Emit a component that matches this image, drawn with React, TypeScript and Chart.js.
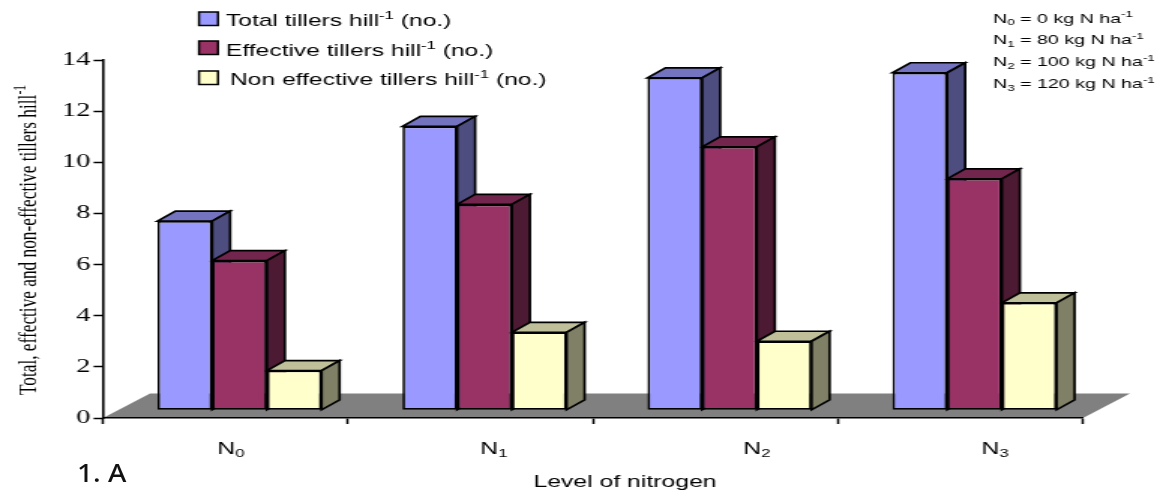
import React, { useEffect, useRef } from "react";
import { Chart, registerables } from "chart.js";

Chart.register(...registerables);

const categories = ["N₀", "N₁", "N₂", "N₃"];
const totalTillers = [7.4, 11.1, 13.0, 13.2];
const effectiveTillers = [5.85, 8.05, 10.3, 9.05];
const nonEffectiveTillers = [1.55, 3.05, 2.7, 4.2];
const seriesLabels = [
  "Total tillers hill⁻¹ (no.)",
  "Effective tillers hill⁻¹ (no.)",
  "Non effective tillers hill⁻¹ (no.)",
];
const notes = [
  "N₀ = 0 kg N ha⁻¹",
  "N₁ = 80 kg N ha⁻¹",
  "N₂ = 100 kg N ha⁻¹",
  "N₃ = 120 kg N ha⁻¹",
];
const yTitle = "Total, effective and non-effective tillers hill⁻¹";
const xTitle = "Level of nitrogen";
const panelLabel = "1. A";

// The reference is a horizontally stretched picture: draw narrow, stretch with CSS.
const PAGE_W = 1163;
const PAGE_H = 497;
const CANVAS_W = 775;
const S = PAGE_W / CANVAS_W;
const px = (x: number) => x / S;

const SANS = '"Liberation Sans", Arial, sans-serif';
const SERIF = '"Liberation Serif", "Times New Roman", serif';

const fills = ["#9999FF", "#993366", "#FFFFCC"];
const tops = ["#7373BF", "#73264D", "#BFBF99"];
const sides = ["#4D4D80", "#4D1A33", "#808066"];

const BAR_SHIFT_X = px(14);
const BAR_SHIFT_Y = 7.7;
const DEPTH_X = px(18);
const DEPTH_Y = 10;
const FLOOR_X = px(47);
const FLOOR_Y = 24.5;
const XLABEL_X = [231, 494, 757, 995];
const XLABEL_Y = 454;
const LINE = 1.7;

const SMALL: Record<string, [string, number]> = {
  "₀": ["0", 1], "₁": ["1", 1], "₂": ["2", 1], "₃": ["3", 1],
  "⁻": ["-", -1], "¹": ["1", -1],
};

// Draws text with real sub- and superscripts, left aligned at x.
function rich(
  ctx: CanvasRenderingContext2D,
  text: string,
  x: number,
  y: number,
  size: number,
  family: string,
) {
  let cur = x;
  let run = "";
  const flush = () => {
    if (!run) return;
    ctx.font = `${size}px ${family}`;
    ctx.fillText(run, cur, y);
    cur += ctx.measureText(run).width;
    run = "";
  };
  for (const ch of text) {
    const small = SMALL[ch];
    if (small) {
      flush();
      ctx.font = `${size * 0.68}px ${family}`;
      ctx.fillText(small[0], cur, y + (small[1] > 0 ? size * 0.2 : -size * 0.42));
      cur += ctx.measureText(small[0]).width;
    } else run += ch;
  }
  flush();
}

function richWidth(ctx: CanvasRenderingContext2D, text: string, size: number, family: string) {
  let w = 0;
  for (const ch of text) {
    const small = SMALL[ch];
    ctx.font = `${small ? size * 0.68 : size}px ${family}`;
    w += ctx.measureText(small ? small[0] : ch).width;
  }
  return w;
}

const poly = (ctx: CanvasRenderingContext2D, pts: number[][], fill: string) => {
  ctx.beginPath();
  pts.forEach(([x, y], i) => (i ? ctx.lineTo(x, y) : ctx.moveTo(x, y)));
  ctx.closePath();
  ctx.fillStyle = fill;
  ctx.fill();
};

const outline = (ctx: CanvasRenderingContext2D) => {
  ctx.strokeStyle = "#000";
  ctx.lineWidth = LINE;
  ctx.lineJoin = "miter";
  ctx.stroke();
};

const depthPlugin = {
  id: "depth3d",
  beforeDraw(chart: any) {
    const { ctx, chartArea: a } = chart;
    poly(
      ctx,
      [
        [a.left, a.bottom],
        [a.right, a.bottom],
        [a.right + FLOOR_X, a.bottom - FLOOR_Y],
        [a.left + FLOOR_X, a.bottom - FLOOR_Y],
      ],
      "#808080",
    );
  },
  // All side and top faces go down first, left to right; the front faces then cover them.
  beforeDatasetsDraw(chart: any) {
    const { ctx } = chart;
    ctx.save();
    ctx.translate(BAR_SHIFT_X, -BAR_SHIFT_Y);
    chart.data.labels.forEach((_: any, c: number) => {
      chart.data.datasets.forEach((_d: any, i: number) => {
        const bar = chart.getDatasetMeta(i).data[c];
        const p = bar.getProps(["x", "y", "base", "width"], true);
        const l = p.x - p.width / 2;
        const r = p.x + p.width / 2;
        poly(ctx, [[l, p.y], [r, p.y], [r + DEPTH_X, p.y - DEPTH_Y], [l + DEPTH_X, p.y - DEPTH_Y]], tops[i]);
        outline(ctx);
        poly(ctx, [[r, p.y], [r + DEPTH_X, p.y - DEPTH_Y], [r + DEPTH_X, p.base - DEPTH_Y], [r, p.base]], sides[i]);
        outline(ctx);
      });
    });
    ctx.restore();
  },
  beforeDatasetDraw(chart: any) {
    chart.ctx.save();
    chart.ctx.translate(BAR_SHIFT_X, -BAR_SHIFT_Y);
  },
  afterDatasetDraw(chart: any) {
    chart.ctx.restore();
  },
  afterDraw(chart: any) {
    const { ctx, chartArea: a } = chart;
    ctx.save();
    ctx.fillStyle = "#000";
    ctx.textBaseline = "alphabetic";
    ctx.textAlign = "left";

    // legend
    const boxY = [12, 41, 71];
    const textX = [226, 226, 230];
    const textY = [26, 56, 85];
    chart.data.datasets.forEach((d: any, i: number) => {
      ctx.fillStyle = fills[i];
      ctx.strokeStyle = "#000";
      ctx.lineWidth = 1.5;
      ctx.fillRect(px(199), boxY[i], px(19), 13.5);
      ctx.strokeRect(px(199), boxY[i], px(19), 13.5);
      ctx.fillStyle = "#000";
      rich(ctx, d.label, px(textX[i]), textY[i], 16.4, SANS);
    });

    // notes
    notes.forEach((t, i) => rich(ctx, t, px(993), 22.5 + i * 21.9, 13.1, SANS));

    // category labels at the places they were put in the reference
    const xs = chart.scales.x;
    xs.ticks.forEach((t: any, i: number) => {
      const label = xs.getLabelForValue(t.value);
      const w = richWidth(ctx, label, 16.5, SANS);
      rich(ctx, label, px(XLABEL_X[i]) - w / 2, XLABEL_Y, 16.5, SANS);
    });

    // axis titles
    ctx.font = `16.5px ${SANS}`;
    ctx.textAlign = "center";
    ctx.fillText(xTitle, px(625), 487);
    ctx.textAlign = "left";
    const w = richWidth(ctx, yTitle, 17.3, SERIF);
    ctx.translate(px(36), (a.top + a.bottom) / 2 + w / 2);
    ctx.rotate(-Math.PI / 2);
    rich(ctx, yTitle, 0, 0, 17.3, SERIF);
    ctx.restore();
  },
};

export default function App() {
  const ref = useRef<HTMLCanvasElement>(null);
  useEffect(() => {
    const chart = new Chart(ref.current!, {
      type: "bar",
      data: {
        labels: categories,
        datasets: [totalTillers, effectiveTillers, nonEffectiveTillers].map((data, i) => ({
          label: seriesLabels[i],
          data,
          clip: false as any,
          backgroundColor: fills[i],
          borderColor: "#000",
          borderWidth: LINE,
          borderSkipped: false,
          barPercentage: 1,
          categoryPercentage: 0.67,
        })),
      },
      options: {
        responsive: false,
        animation: false,
        devicePixelRatio: 1,
        layout: { padding: { top: 60, right: CANVAS_W - px(1083), left: 0, bottom: 0 } },
        plugins: { legend: { display: false }, title: { display: false }, tooltip: { enabled: false } },
        scales: {
          x: {
            afterFit: (s: any) => {
              s.height = PAGE_H - 418;
            },
            grid: {
              drawOnChartArea: false,
              offset: true,
              tickLength: 6,
              tickWidth: 1.5,
              tickColor: "#000",
            },
            border: { color: "#000", width: 1.6 },
            ticks: { display: false },
          },
          y: {
            min: 0,
            max: 14,
            afterFit: (s: any) => {
              s.width = px(103);
            },
            grid: { drawOnChartArea: false, tickLength: 6.3, tickWidth: 1.5, tickColor: "#000" },
            border: { color: "#000", width: 1.6 },
            ticks: {
              stepSize: 2,
              padding: 2,
              color: "#000",
              font: { family: SERIF, size: 19 },
            },
          },
        },
      },
      plugins: [depthPlugin as any],
    });
    return () => chart.destroy();
  }, []);

  return (
    <div style={{ position: "absolute", left: 0, top: 0, width: PAGE_W, height: PAGE_H, overflow: "hidden", background: "#fff" }}>
      <div style={{ width: CANVAS_W, height: PAGE_H, transform: `scaleX(${S})`, transformOrigin: "0 0" }}>
        <canvas ref={ref} width={CANVAS_W} height={PAGE_H} style={{ display: "block" }} />
      </div>
      <div
        style={{
          position: "absolute",
          left: 77,
          top: 454,
          font: '500 26px "Noto Sans", sans-serif',
          color: "#111",
          transform: "scaleX(1.08)",
          transformOrigin: "0 0",
        }}
      >
        {panelLabel}
      </div>
    </div>
  );
}
